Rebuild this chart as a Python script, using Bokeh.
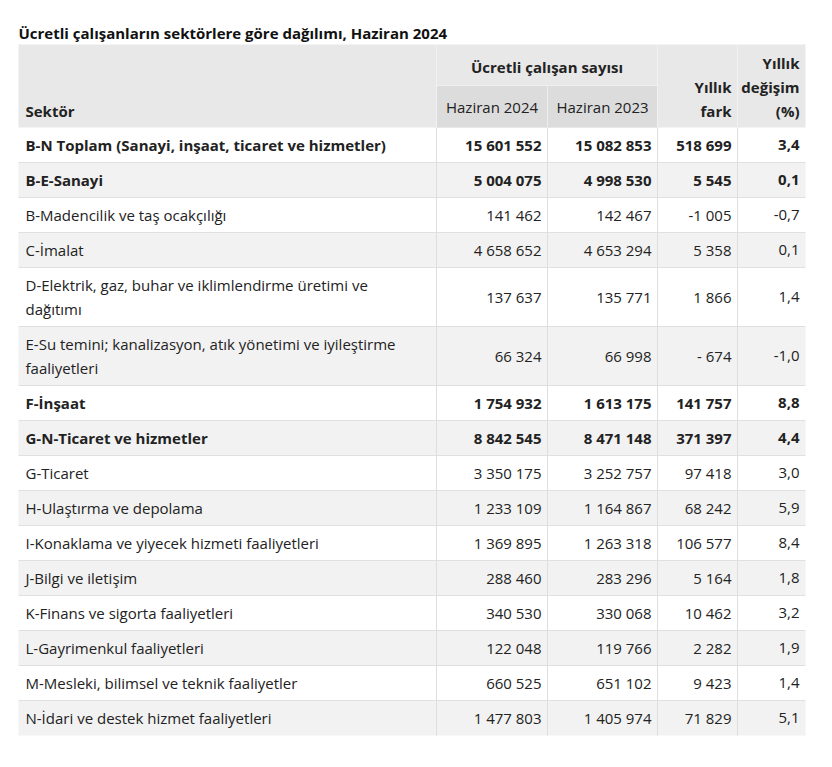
from bokeh.plotting import figure
from bokeh.models import Range1d, ColumnDataSource
from bokeh.core.properties import value
from bokeh.embed import file_html
from bokeh.resources import INLINE

# ---------------- data ----------------
title = "Ücretli çalışanların sektörlere göre dağılımı, Haziran 2024"
head_sector = "Sektör"
head_group = "Ücretli çalışan sayısı"
head_years = ["Haziran 2024", "Haziran 2023"]
head_fark = ["Yıllık", "fark"]
head_pct = ["Yıllık", "değişim", "(%)"]

sectors = [
    ["B-N Toplam (Sanayi, inşaat, ticaret ve hizmetler)"],
    ["B-E-Sanayi"],
    ["B-Madencilik ve taş ocakçılığı"],
    ["C-İmalat"],
    ["D-Elektrik, gaz, buhar ve iklimlendirme üretimi ve", "dağıtımı"],
    ["E-Su temini; kanalizasyon, atık yönetimi ve iyileştirme", "faaliyetleri"],
    ["F-İnşaat"],
    ["G-N-Ticaret ve hizmetler"],
    ["G-Ticaret"],
    ["H-Ulaştırma ve depolama"],
    ["I-Konaklama ve yiyecek hizmeti faaliyetleri"],
    ["J-Bilgi ve iletişim"],
    ["K-Finans ve sigorta faaliyetleri"],
    ["L-Gayrimenkul faaliyetleri"],
    ["M-Mesleki, bilimsel ve teknik faaliyetler"],
    ["N-İdari ve destek hizmet faaliyetleri"],
]
h2024 = [15601552, 5004075, 141462, 4658652, 137637, 66324, 1754932, 8842545,
         3350175, 1233109, 1369895, 288460, 340530, 122048, 660525, 1477803]
h2023 = [15082853, 4998530, 142467, 4653294, 135771, 66998, 1613175, 8471148,
         3252757, 1164867, 1263318, 283296, 330068, 119766, 651102, 1405974]
fark = [518699, 5545, -1005, 5358, 1866, -674, 141757, 371397,
        97418, 68242, 106577, 5164, 10462, 2282, 9423, 71829]
degisim = [3.4, 0.1, -0.7, 0.1, 1.4, -1.0, 8.8, 4.4,
           3.0, 5.9, 8.4, 1.8, 3.2, 1.9, 1.4, 5.1]
bold_rows = [True, True, False, False, False, False, True, True,
             False, False, False, False, False, False, False, False]
fark_display_override = {5: "- 674"}

# ---------------- formatting helpers ----------------
def fmt_int(n):
    return format(n, ",").replace(",", " ")

def fmt_pct(v):
    return f"{v:.1f}".replace(".", ",")

# ---------------- layout ----------------
W, H = 816, 751
FONT = "Open Sans"
FS = "15px"
col_edges = [18, 436, 547, 657, 737, 805]
pad_l, pad_r = 7, 6
head_top, sub_top, head_bot = 44, 85, 127
row_h1, row_h2 = 35, 59
line_gap = 24

p = figure(width=W, height=H, output_backend="svg", toolbar_location=None,
           x_range=Range1d(0, W), y_range=Range1d(H, 0),
           min_border=0, min_border_left=0, min_border_right=0,
           min_border_top=0, min_border_bottom=0)
p.axis.visible = False
p.grid.visible = False
p.outline_line_color = None
p.background_fill_color = "white"
p.border_fill_color = "white"

# row geometry
tops, bots = [], []
y = head_bot
for s in sectors:
    h = row_h1 if len(s) == 1 else row_h2
    tops.append(y)
    bots.append(y + h)
    y += h
table_bot = y

# backgrounds
row_colors = ["#ffffff" if i % 2 == 0 else "#f2f2f2" for i in range(len(sectors))]
p.quad(left=[col_edges[0]] * len(sectors), right=[col_edges[-1]] * len(sectors),
       top=tops, bottom=bots, fill_color=row_colors, line_color=None)
# header backgrounds
p.quad(left=[col_edges[0]], right=[col_edges[-1]], top=[head_top], bottom=[head_bot],
       fill_color="#e8e8e8", line_color=None)
p.quad(left=[col_edges[1], col_edges[2]], right=[col_edges[2], col_edges[3]],
       top=[sub_top, sub_top], bottom=[head_bot, head_bot],
       fill_color="#dcdcdc", line_color=None)

# grid lines
hy = [b for b in bots[:-1]]
p.segment(x0=[col_edges[0]] * len(hy), x1=[col_edges[-1]] * len(hy), y0=hy, y1=hy,
          line_color="#e0e0e0", line_width=1)
p.segment(x0=[col_edges[1]], x1=[col_edges[3]], y0=[sub_top], y1=[sub_top],
          line_color="#f0f0f0", line_width=1)
vx = col_edges[1:-1]
p.segment(x0=vx, x1=vx, y0=[head_bot] * len(vx), y1=[table_bot] * len(vx),
          line_color="#dedede", line_width=1)
hvx = [col_edges[1], col_edges[3], col_edges[4]]
p.segment(x0=hvx, x1=hvx, y0=[head_top] * 3, y1=[head_bot] * 3,
          line_color="#f2f2f2", line_width=1)
p.segment(x0=[col_edges[2]], x1=[col_edges[2]], y0=[sub_top], y1=[head_bot],
          line_color="#eeeeee", line_width=1)

# ---------------- texts ----------------
def add_text(xs, ys, texts, align, style, color="#222222", size=FS):
    src = ColumnDataSource(dict(x=xs, y=ys, t=texts))
    p.text(x="x", y="y", text="t", source=src, text_align=align,
           text_baseline="middle", text_font=value(FONT), text_font_size=size,
           text_font_style=style, text_color=color)

# title
add_text([18], [32], [title], "left", "bold", color="#111111", size="15px")

# header texts
add_text([col_edges[0] + pad_l], [110], [head_sector], "left", "bold")
add_text([(col_edges[1] + col_edges[3]) / 2], [66], [head_group], "center", "bold")
add_text([(col_edges[1] + col_edges[2]) / 2, (col_edges[2] + col_edges[3]) / 2],
         [106, 106], head_years, "center", "normal")
add_text([col_edges[4] - pad_r] * 2, [110 - line_gap, 110], head_fark, "right", "bold")
add_text([col_edges[5] - pad_r] * 3, [110 - 2 * line_gap, 110 - line_gap, 110],
         head_pct, "right", "bold")

# body texts
for style_flag, style in [(True, "bold"), (False, "normal")]:
    lx, ly, lt = [], [], []
    nx, ny, nt = [], [], []
    for i, s in enumerate(sectors):
        if bold_rows[i] != style_flag:
            continue
        mid = (tops[i] + bots[i]) / 2
        n = len(s)
        for k, line in enumerate(s):
            lx.append(col_edges[0] + pad_l)
            ly.append(mid + (k - (n - 1) / 2) * line_gap)
            lt.append(line)
        vals = [fmt_int(h2024[i]), fmt_int(h2023[i]),
                fark_display_override.get(i, fmt_int(fark[i])), fmt_pct(degisim[i])]
        for c, v in enumerate(vals):
            nx.append(col_edges[c + 2] - pad_r)
            ny.append(mid)
            nt.append(v)
    add_text(lx, ly, lt, "left", style)
    add_text(nx, ny, nt, "right", style)

open("out.html", "w").write(file_html(p, INLINE))
